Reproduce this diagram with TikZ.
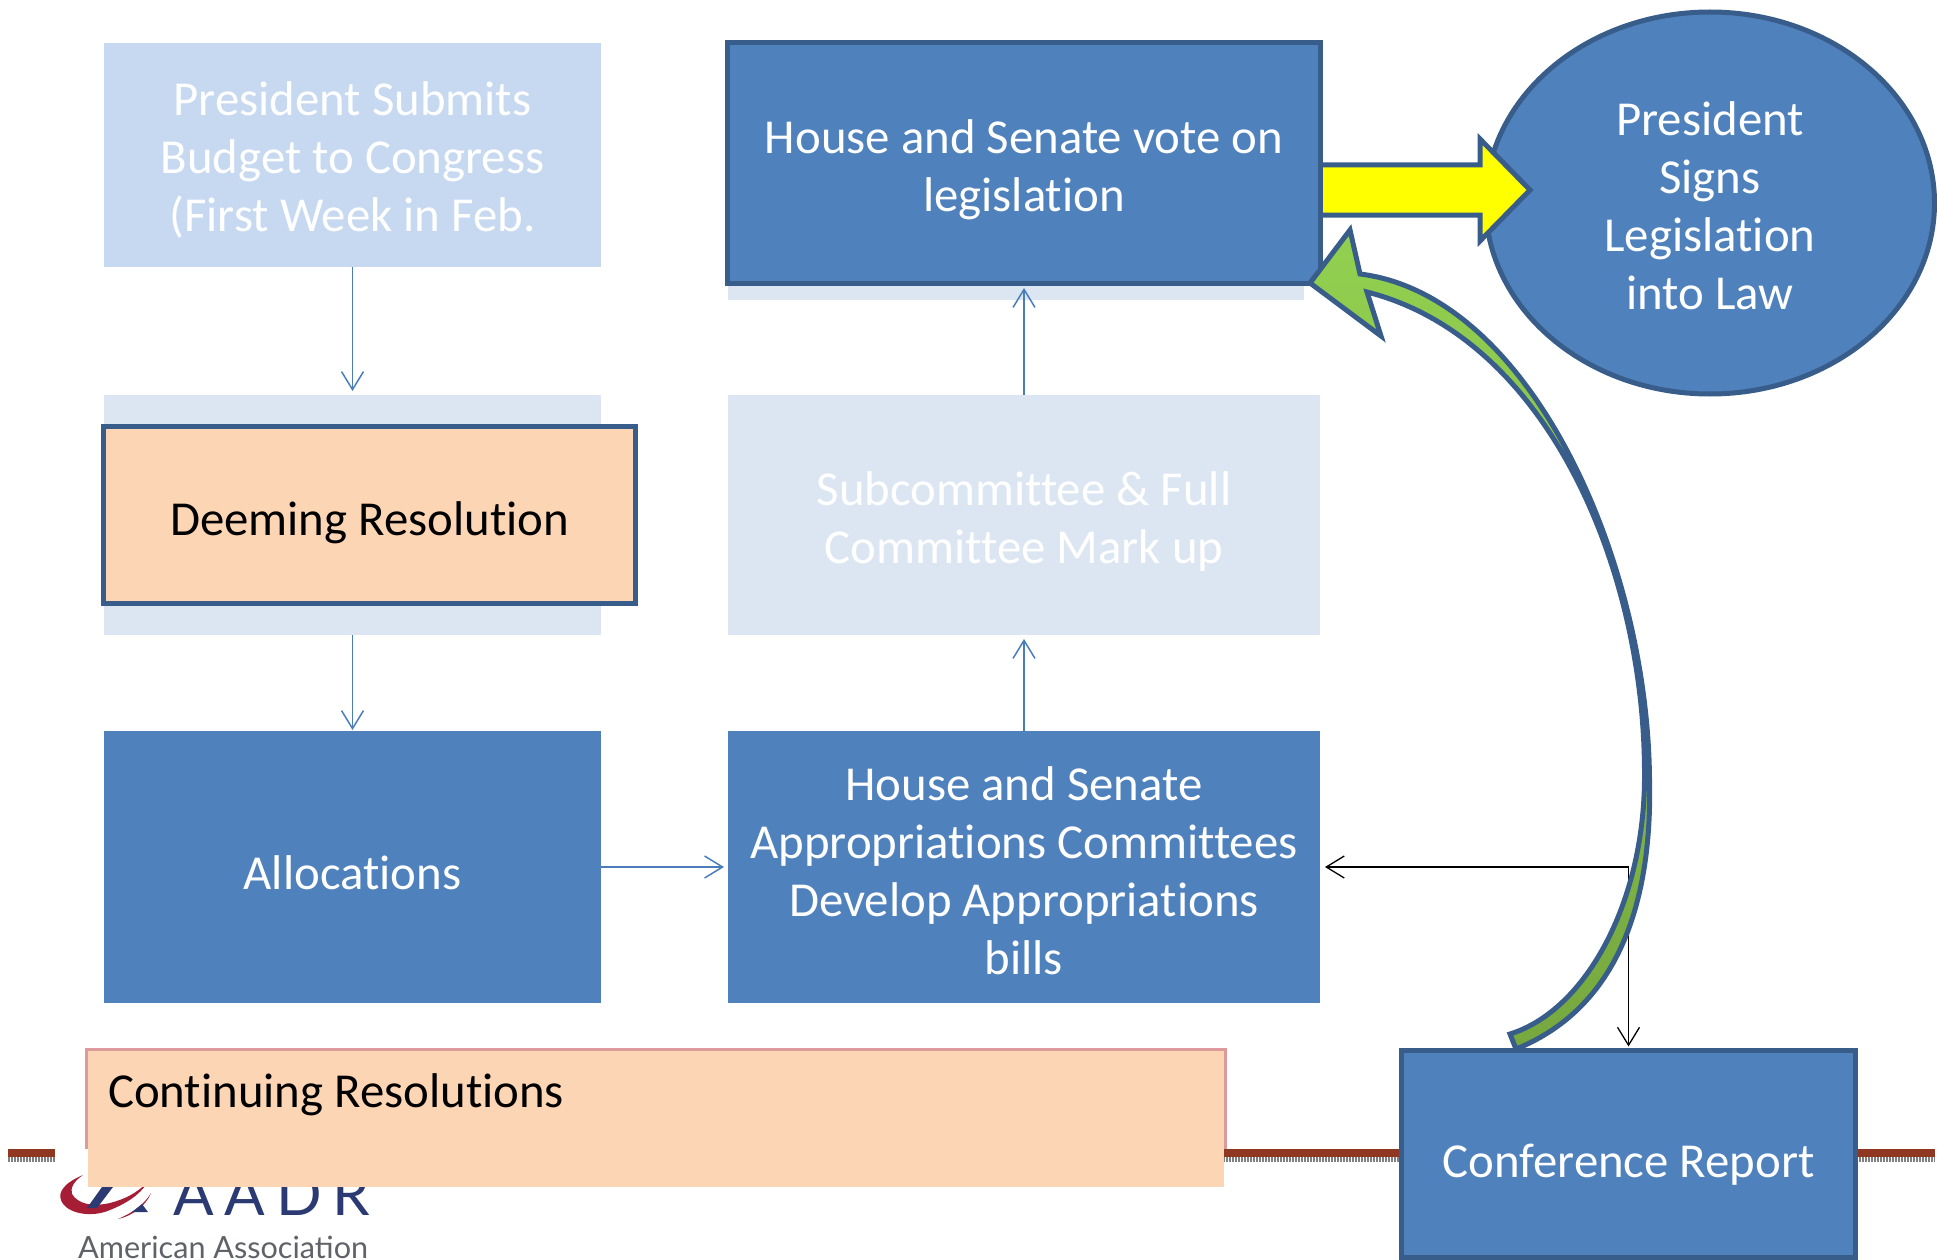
\documentclass[tikz,border=0pt]{standalone}
\usepackage{fontspec}
\setmainfont{Carlito}[Ligatures=NoCommon]
\newfontfamily\logofont{Lato}
\usetikzlibrary{arrows.meta,shapes.geometric}
\definecolor{boxblue}{HTML}{4F81BD}
\definecolor{edgeblue}{HTML}{385D8A}
\definecolor{linkblue}{HTML}{4A7EBB}
\definecolor{paleblue}{HTML}{C6D9F1}
\definecolor{paleerblue}{HTML}{DCE6F2}
\definecolor{peach}{HTML}{FCD5B5}
\definecolor{pinkedge}{HTML}{DD9A9C}
\definecolor{rulered}{HTML}{8F3720}
\definecolor{rulegrey}{HTML}{808080}
\definecolor{signyellow}{RGB}{255,255,0}
\definecolor{headgreen}{HTML}{92D050}
\definecolor{tailgreen}{HTML}{76A83F}
\definecolor{logored}{HTML}{A51E36}
\definecolor{logonavy}{HTML}{2B3A73}
\definecolor{logogrey}{HTML}{5F6268}
\tikzset{
  boxtext/.style={align=center,inner sep=0pt,outer sep=0pt,text=white,
    font=\fontsize{48.8}{58}\selectfont},
  textdown/.style={execute at begin node={\rule{0pt}{#1}}},
  plainbox/.style={boxtext,rectangle,fill=boxblue},
  edgedbox/.style={plainbox,draw=edgeblue,line width=5pt},
  link/.style={linkblue,line width=1.5pt,-{Straight Barb[length=18pt,width=22pt]}},
}
\begin{document}
\begin{tikzpicture}[x=1pt,y=-1pt]
  \useasboundingbox (0,0) rectangle (1937,1260);
  \fill[rulered] (8,1149) rectangle (1935,1157);
  \draw[rulegrey,line width=5pt,dash pattern=on 1.5pt off 1.5pt] (8,1159.5) -- (1935,1159.5);
  \fill[white] (55,1135) rectangle (375,1260);
  \begin{scope}[logored]
    \fill (83,1175) .. controls (64,1183) and (58,1192) .. (61,1200)
      .. controls (66,1214) and (92,1218) .. (110,1210)
      .. controls (125,1204) and (140,1195) .. (147,1183)
      .. controls (135,1194) and (125,1199) .. (110,1203)
      .. controls (92,1207) and (78,1204) .. (72,1194)
      .. controls (70,1188) and (74,1181) .. (83,1175) -- cycle;
    \fill (118,1219) .. controls (132,1216) and (146,1206) .. (151,1193)
      .. controls (144,1205) and (132,1213) .. (118,1219) -- cycle;
  \end{scope}
  \fill[logonavy] (87,1208) -- (97,1208) -- (113,1187) -- (102,1187) -- cycle;
  \fill[logonavy] (132,1212) -- (148,1212) -- (142,1204) -- cycle;
  \node[anchor=base west,inner sep=0pt,text=logonavy] (logoname) at (173,1215)
    {\logofont\addfontfeature{LetterSpace=18}\fontsize{60}{60}\selectfont AADR};
  \node[anchor=base west,inner sep=0pt,text=logogrey] (logotext) at (78,1258)
    {\logofont\fontsize{30.6}{31}\selectfont American Association};
  \fill[peach] (88,1050) rectangle (1224,1187);
  \draw[pinkedge,line width=3pt] (86.5,1149) -- (86.5,1049.5) -- (1225.5,1049.5) -- (1225.5,1149);
  \node[boxtext,text=black,anchor=base west] (continuing) at (108,1107) {Continuing Resolutions};
  \node[plainbox,textdown=159pt,fill=paleblue,minimum width=497pt,minimum height=224pt] (president) at (352.5,155)
    {President Submits\\Budget to Congress\\(First Week in Feb.};
  \node[plainbox,fill=paleerblue,minimum width=497pt,minimum height=240pt] (deemingback) at (352.5,515) {};
  \node[edgedbox,textdown=50pt,fill=peach,text=black,minimum width=532pt,minimum height=177pt] (deeming) at (369.5,515)
    {Deeming Resolution};
  \node[plainbox,textdown=46pt,minimum width=497pt,minimum height=272pt] (allocations) at (352.5,867) {Allocations};
  \node[plainbox,textdown=216pt,minimum width=592pt,minimum height=272pt] (approp) at (1024,867)
    {House and Senate\\Appropriations Committees\\Develop Appropriations\\bills};
  \node[plainbox,textdown=105pt,fill=paleerblue,minimum width=592pt,minimum height=240pt] (markup) at (1024,515)
    {Subcommittee \& Full\\Committee Mark up};
  \node[plainbox,fill=paleerblue,minimum width=576pt,minimum height=257pt] (voteback) at (1016,171) {};
  \node[edgedbox,textdown=213pt,ellipse,minimum width=449pt,minimum height=382pt] (signs) at (1710,203)
    {President\\Signs\\Legislation\\into Law};
  \filldraw[fill=signyellow,draw=edgeblue,line width=5pt,miter limit=10]
    (1322,165) -- (1480,165) -- (1480,139) -- (1530,190) -- (1480,241) -- (1480,215) -- (1322,215);
  \node[edgedbox,textdown=106pt,minimum width=593pt,minimum height=241pt] (vote) at (1024,163)
    {House and Senate vote on\\legislation};
  \draw[link] (president) to ([yshift=4pt]deemingback.north);
  \draw[link] (deemingback.south) to ([yshift=1pt]allocations.north);
  \draw[link] (allocations) to ([xshift=-4pt]approp.west);
  \draw[link] (approp) to ([yshift=-4pt]markup.south);
  \draw[link] (markup) to ([yshift=-4.5pt]vote.south);
  \node[edgedbox,textdown=54pt,minimum width=454pt,minimum height=207pt] (conference) at (1628.5,1154) {Conference Report};
  \draw[black,line width=1.3pt,{Straight Barb[length=18pt,width=22pt]}-{Straight Barb[length=18pt,width=22pt]},
    shorten <=5pt,shorten >=4pt] (approp.east) -| (conference.north);
  \filldraw[top color=headgreen,bottom color=tailgreen,draw=edgeblue,line width=5pt,miter limit=10]
    (1510,1034) -- (1516,1049)
    .. controls (1625,1005) and (1652,890) .. (1649.5,780)
    .. controls (1648,560) and (1530,295) .. (1360,274)
    -- (1350,230) -- (1310,283) -- (1381,336) -- (1367,292)
    .. controls (1548,338) and (1645,570) .. (1644.5,775)
    .. controls (1645,900) and (1587,1010) .. (1510,1034) -- cycle;
  \draw[edgeblue,line width=5pt] (1401.5,1050.5) -- (1855.5,1050.5);
\end{tikzpicture}
\end{document}
